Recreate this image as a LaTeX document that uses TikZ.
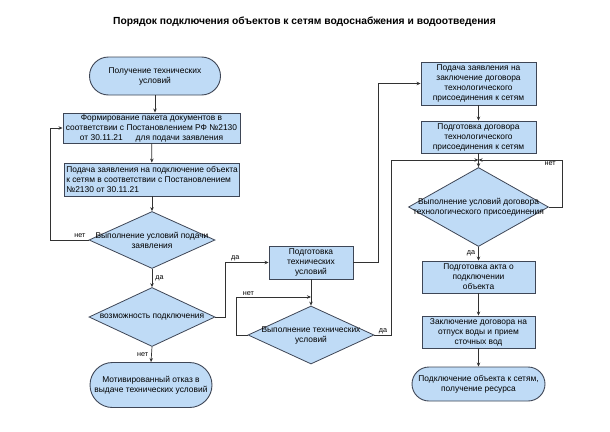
\documentclass[tikz,border=0pt]{standalone}
\usepackage{fontspec}
\setmainfont{Liberation Sans}
\usetikzlibrary{shapes.geometric,shapes.misc,arrows.meta}
\definecolor{boxfill}{RGB}{191,219,246}
\definecolor{boxline}{RGB}{62,70,86}
\definecolor{flowline}{RGB}{50,50,50}
\tikzset{
  term/.style={rounded rectangle, draw=boxline, line width=0.9pt, fill=boxfill, align=center, inner sep=1pt, font=\fontsize{8.4}{10}\selectfont},
  proc/.style={rectangle, draw=boxline, line width=0.9pt, fill=boxfill, align=center, inner sep=1pt, font=\fontsize{8.4}{10}\selectfont},
  decn/.style={diamond, draw=boxline, line width=0.8pt, fill=boxfill, inner sep=0pt},
  dtext/.style={align=center, inner sep=0pt, font=\fontsize{8.4}{10}\selectfont},
  flow/.style={draw=flowline, line width=0.7pt, -{Stealth[length=4pt,width=3.5pt]}},
  yesno/.style={font=\fontsize{7.2}{8}\selectfont, inner sep=1pt},
}
\begin{document}
\begin{tikzpicture}[x=1pt,y=1pt,yscale=-1]
\path[use as bounding box] (0,0) rectangle (610,431);

% Title
\node[font=\fontsize{10.3}{12}\selectfont\bfseries] (title) at (304.5,22) {Порядок подключения объектов к сетям водоснабжения и водоотведения};

%Left column
\node[term, minimum width=133pt, minimum height=38pt] (start) at (155,76) {Получение технических\\условий};
\node[proc, minimum width=177pt, minimum height=30pt] (box1) at (151.5,128) {Формирование пакета документов в\\соответствии с Постановлением РФ №2130\\от 30.11.21 \quad\ для подачи заявления};
\node[proc, minimum width=175pt, minimum height=33pt, align=left] (box2) at (152,179.5) {Подача заявления на подключение объекта\\ к сетям в соответствии с Постановлением\\№2130 от 30.11.21};
\node[decn, minimum width=126pt, minimum height=57pt] (dec1) at (152,240) {};
\node[dtext] (dec1t) at (dec1) {Выполнение условий подачи\\заявления};
\node[decn, minimum width=126pt, minimum height=59pt] (dec2) at (152,317) {};
\node[dtext] (dec2t) at (dec2) {возможность подключения};
\node[term, minimum width=124pt, minimum height=45pt] (refuse) at (151,385) {Мотивированный отказ в\\выдаче технических условий};

%Middle column
\node[proc, minimum width=84pt, minimum height=33pt] (prep) at (311,262.5) {Подготовка\\технических\\условий};
\node[decn, minimum width=126pt, minimum height=58pt] (dec3) at (311,335) {};
\node[dtext] (dec3t) at (dec3) {Выполнение технических\\условий};

%Right column
\node[proc, minimum width=115pt, minimum height=43pt] (r1) at (478.5,83.5) {Подача заявления на\\заключение договора\\технологического\\присоединения к сетям};
\node[proc, minimum width=115pt, minimum height=32pt] (r2) at (478.5,137) {Подготовка договора\\технологического\\присоединения к сетям};
\node[decn, minimum width=140pt, minimum height=79pt] (dec4) at (478.5,207) {};
\node[dtext] (dec4t) at (dec4) {Выполнение условий договора\\технологического присоединения};
\node[proc, minimum width=113pt, minimum height=32pt] (r3) at (478.5,277) {Подготовка акта о\\подключении\\объекта};
\node[proc, minimum width=113pt, minimum height=32pt] (r4) at (478.5,332) {Заключение договора на\\отпуск воды и прием\\сточных вод};
\node[term, minimum width=135pt, minimum height=34pt] (finish) at (478.5,384) {Подключение объекта к сетям,\\получение ресурса};

% junctions
\coordinate (jn1) at (311,297);
\coordinate (jn2) at (478.5,160);

% Connectors
\draw[flow] (start.south) -- (start.south |- box1.north);
\draw[flow] (box1) -- (box2);
\draw[flow] (box2) -- (dec1);
\draw[flow] (dec1.west) -- ++(-38,0) |- (box1.west);
\node[yesno, anchor=south east] (no1) at ([xshift=-2pt,yshift=-1pt]dec1.west) {нет};
\draw[flow] (dec1.south) -- node[yesno, anchor=west, xshift=2pt] (yes1) {да} (dec2.north);
\draw[flow] (dec2.south) -- node[yesno, anchor=east, xshift=-2pt] (no2) {нет} (refuse.north);
\draw[flow] (dec2.east) -- ++(10,0) |- node[yesno, pos=0.55, anchor=south west] (yes2) {да} (prep.west);

\draw[flow] (prep.south) -- (dec3.north);
\draw[flow] (dec3.west) -- ++(-11,0) |- node[yesno, pos=0.58, above] (no3) {нет} (jn1);
\draw[flow] (prep.east) -- ++(25,0) |- (r1.west);
\draw[flow] (dec3.east) -- node[yesno, above] (yes3) {да} ++(17,0) |- (jn2);

\draw[flow] (r1) -- (r2);
\draw[flow] (r2.south) -- (dec4.north);
\draw[flow] (dec4.east) -- ++(13,0) |- node[yesno, pos=0.57, below] (no4) {нет} (jn2);
\draw[flow] (dec4.south) -- node[yesno, anchor=east, xshift=-2pt] (yes4) {да} (r3.north);
\draw[flow] (r3) -- (r4);
\draw[flow] (r4) -- (finish);

\end{tikzpicture}
\end{document}
